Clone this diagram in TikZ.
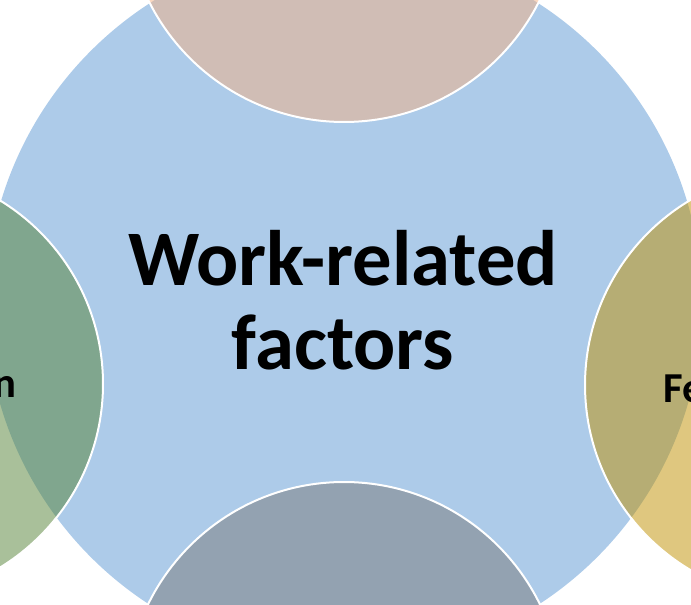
\documentclass[tikz,border=0pt]{standalone}
\usepackage{fontspec}
\setmainfont{Carlito}
\usepackage{tikz}
\usetikzlibrary{positioning}

\definecolor{hubblue}{HTML}{ADCBE9}
\definecolor{peach}{HTML}{F4B183}
\definecolor{leafgreen}{HTML}{548235}
\definecolor{gold}{HTML}{BF9000}
\definecolor{slate}{HTML}{7A7A7A}

\begin{document}
\begin{tikzpicture}[x=0.75pt, y=-0.75pt, font=\bfseries,
  petal/.style={circle, draw=white, line width=1.5pt, fill opacity=0.5,
    minimum size=327pt, inner sep=0pt, outer sep=0pt}]
  \useasboundingbox (0,0) rectangle (691,605);
  \clip (0,0) rectangle (691,605);

  % centre circle
  \node[circle, fill=hubblue, minimum size=537pt, inner sep=0pt] (hub) at (344,304) {};

  % the four circles round it
  \node[petal, fill=peach] (top) at (344,-96) {};
  \node[petal, fill=slate] (bottom) at (344,700) {};
  \node[petal, fill=leafgreen, minimum size=322.5pt] (left) at (-112,384) {};
  \node[petal, fill=gold, minimum size=322.5pt] (right) at (800,385) {};

  % base anchor sits on the last line
  \node[font=\fontsize{59}{63}\bfseries, align=center, anchor=base] (hublabel) at (343,369) {Work-related\\factors};
  \node[font=\fontsize{32}{38}\bfseries, anchor=base east, inner sep=0pt] (leftlabel) at (17,397) {n};
  \node[font=\fontsize{32}{38}\bfseries, anchor=base west, inner sep=0pt] (rightlabel) at (663,402) {Fe};
\end{tikzpicture}
\end{document}
